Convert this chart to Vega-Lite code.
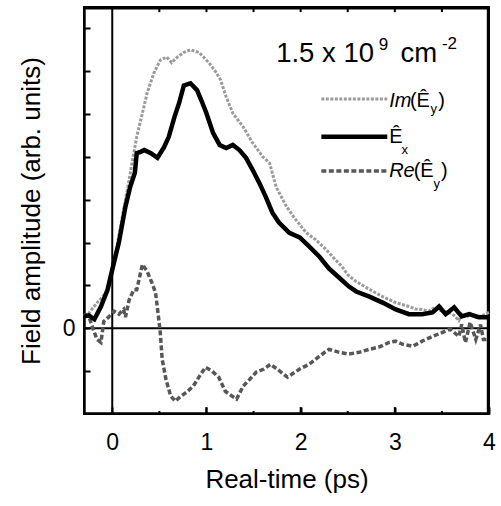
{
  "$schema": "https://vega.github.io/schema/vega-lite/v6.json",
  "width": 405,
  "height": 407,
  "autosize": {"type": "none"},
  "padding": {"left": 84, "top": 7, "right": 12, "bottom": 92},
  "background": "white",
  "resolve": {"axis": {"x": "independent", "y": "independent"}},
  "config": {
    "view": {"stroke": "black", "strokeWidth": 2},
    "font": "Liberation Sans",
    "axis": {
      "grid": false,
      "domain": false,
      "ticks": true,
      "tickColor": "black",
      "tickWidth": 2,
      "labelColor": "black",
      "labelFont": "Liberation Sans",
      "labelFontSize": 23,
      "titleFont": "Liberation Sans",
      "titleFontSize": 26,
      "titleFontWeight": "normal",
      "titleColor": "black",
      "labelOverlap": false,
      "labelFlush": false
    }
  },
  "datasets": {
    "zero": [{"z": 0}],
    "vedges": [{"z": -0.295}, {"z": 3.99}],
    "hedges": [{"z": -1.99}, {"z": 7.47}],
    "xticks": [
      {"t": 1, "lo": -1.99, "hi": -1.84},
      {"t": 2, "lo": -1.99, "hi": -1.84},
      {"t": 3, "lo": -1.99, "hi": -1.84},
      {"t": 0.5, "lo": -1.99, "hi": -1.93},
      {"t": 1.5, "lo": -1.99, "hi": -1.93},
      {"t": 2.5, "lo": -1.99, "hi": -1.93},
      {"t": 3.5, "lo": -1.99, "hi": -1.93},
      {"t": 0.5, "lo": 7.38, "hi": 7.47},
      {"t": 1, "lo": 7.38, "hi": 7.47},
      {"t": 1.5, "lo": 7.38, "hi": 7.47},
      {"t": 2, "lo": 7.38, "hi": 7.47},
      {"t": 2.5, "lo": 7.38, "hi": 7.47},
      {"t": 3, "lo": 7.38, "hi": 7.47},
      {"t": 3.5, "lo": 7.38, "hi": 7.47}
    ],
    "main": [
      {"s":"Im","t":-0.30,"v":0.30},{"s":"Im","t":-0.25,"v":0.35},{"s":"Im","t":-0.16,"v":0.60},{"s":"Im","t":-0.06,"v":0.84},{"s":"Im","t":0.00,"v":1.40},{"s":"Im","t":0.05,"v":1.90},{"s":"Im","t":0.12,"v":2.77},{"s":"Im","t":0.16,"v":3.23},{"s":"Im","t":0.21,"v":3.86},{"s":"Im","t":0.26,"v":4.47},{"s":"Im","t":0.32,"v":5.02},{"s":"Im","t":0.37,"v":5.49},{"s":"Im","t":0.44,"v":5.95},{"s":"Im","t":0.51,"v":6.26},{"s":"Im","t":0.58,"v":6.33},{"s":"Im","t":0.63,"v":6.20},{"s":"Im","t":0.69,"v":6.33},{"s":"Im","t":0.76,"v":6.44},{"s":"Im","t":0.83,"v":6.50},{"s":"Im","t":0.92,"v":6.44},{"s":"Im","t":0.97,"v":6.33},{"s":"Im","t":1.03,"v":6.19},{"s":"Im","t":1.10,"v":5.98},{"s":"Im","t":1.15,"v":5.80},{"s":"Im","t":1.21,"v":5.40},{"s":"Im","t":1.28,"v":5.02},{"s":"Im","t":1.39,"v":4.70},{"s":"Im","t":1.49,"v":4.33},{"s":"Im","t":1.60,"v":4.00},{"s":"Im","t":1.67,"v":3.86},{"s":"Im","t":1.74,"v":3.30},{"s":"Im","t":1.85,"v":2.84},{"s":"Im","t":1.95,"v":2.53},{"s":"Im","t":2.06,"v":2.23},{"s":"Im","t":2.16,"v":2.07},{"s":"Im","t":2.27,"v":1.84},{"s":"Im","t":2.37,"v":1.60},{"s":"Im","t":2.44,"v":1.44},{"s":"Im","t":2.50,"v":1.25},{"s":"Im","t":2.59,"v":1.09},{"s":"Im","t":2.73,"v":0.91},{"s":"Im","t":2.87,"v":0.74},{"s":"Im","t":3.01,"v":0.60},{"s":"Im","t":3.15,"v":0.51},{"s":"Im","t":3.22,"v":0.45},{"s":"Im","t":3.29,"v":0.44},{"s":"Im","t":3.36,"v":0.40},{"s":"Im","t":3.43,"v":0.49},{"s":"Im","t":3.50,"v":0.40},{"s":"Im","t":3.57,"v":0.37},{"s":"Im","t":3.63,"v":0.30},{"s":"Im","t":3.68,"v":0.18},{"s":"Im","t":3.71,"v":0.33},{"s":"Im","t":3.76,"v":0.25},{"s":"Im","t":3.80,"v":0.34},{"s":"Im","t":3.86,"v":0.26},{"s":"Im","t":3.93,"v":0.30},{"s":"Im","t":4.00,"v":0.37},
      {"s":"Re","t":-0.30,"v":0.33},{"s":"Re","t":-0.25,"v":0.28},{"s":"Re","t":-0.19,"v":-0.10},{"s":"Re","t":-0.16,"v":-0.26},{"s":"Re","t":-0.12,"v":-0.33},{"s":"Re","t":-0.09,"v":0.16},{"s":"Re","t":-0.04,"v":0.26},{"s":"Re","t":0.02,"v":0.40},{"s":"Re","t":0.07,"v":0.33},{"s":"Re","t":0.12,"v":0.44},{"s":"Re","t":0.14,"v":0.26},{"s":"Re","t":0.18,"v":0.67},{"s":"Re","t":0.23,"v":0.90},{"s":"Re","t":0.26,"v":0.90},{"s":"Re","t":0.32,"v":1.49},{"s":"Re","t":0.37,"v":1.33},{"s":"Re","t":0.42,"v":1.07},{"s":"Re","t":0.46,"v":0.83},{"s":"Re","t":0.49,"v":0.28},{"s":"Re","t":0.51,"v":-0.10},{"s":"Re","t":0.53,"v":-0.72},{"s":"Re","t":0.57,"v":-1.19},{"s":"Re","t":0.62,"v":-1.58},{"s":"Re","t":0.67,"v":-1.70},{"s":"Re","t":0.72,"v":-1.60},{"s":"Re","t":0.79,"v":-1.49},{"s":"Re","t":0.86,"v":-1.35},{"s":"Re","t":0.94,"v":-1.07},{"s":"Re","t":0.99,"v":-0.91},{"s":"Re","t":1.06,"v":-1.00},{"s":"Re","t":1.13,"v":-1.14},{"s":"Re","t":1.20,"v":-1.47},{"s":"Re","t":1.27,"v":-1.58},{"s":"Re","t":1.32,"v":-1.65},{"s":"Re","t":1.39,"v":-1.35},{"s":"Re","t":1.46,"v":-1.19},{"s":"Re","t":1.53,"v":-1.02},{"s":"Re","t":1.61,"v":-0.95},{"s":"Re","t":1.68,"v":-0.84},{"s":"Re","t":1.75,"v":-0.95},{"s":"Re","t":1.86,"v":-1.14},{"s":"Re","t":1.99,"v":-0.95},{"s":"Re","t":2.09,"v":-0.84},{"s":"Re","t":2.20,"v":-0.65},{"s":"Re","t":2.30,"v":-0.49},{"s":"Re","t":2.41,"v":-0.56},{"s":"Re","t":2.51,"v":-0.60},{"s":"Re","t":2.62,"v":-0.56},{"s":"Re","t":2.73,"v":-0.49},{"s":"Re","t":2.83,"v":-0.44},{"s":"Re","t":2.94,"v":-0.33},{"s":"Re","t":3.01,"v":-0.30},{"s":"Re","t":3.08,"v":-0.37},{"s":"Re","t":3.19,"v":-0.42},{"s":"Re","t":3.29,"v":-0.30},{"s":"Re","t":3.40,"v":-0.19},{"s":"Re","t":3.50,"v":-0.10},{"s":"Re","t":3.59,"v":-0.02},{"s":"Re","t":3.68,"v":-0.19},{"s":"Re","t":3.71,"v":0.09},{"s":"Re","t":3.75,"v":-0.33},{"s":"Re","t":3.80,"v":0.14},{"s":"Re","t":3.86,"v":-0.26},{"s":"Re","t":3.91,"v":0.09},{"s":"Re","t":3.94,"v":-0.26},{"s":"Re","t":4.00,"v":-0.26},
      {"s":"Ex","t":-0.30,"v":0.28},{"s":"Ex","t":-0.25,"v":0.30},{"s":"Ex","t":-0.19,"v":0.21},{"s":"Ex","t":-0.12,"v":0.51},{"s":"Ex","t":-0.05,"v":0.90},{"s":"Ex","t":0.00,"v":1.37},{"s":"Ex","t":0.07,"v":2.00},{"s":"Ex","t":0.14,"v":2.84},{"s":"Ex","t":0.19,"v":3.30},{"s":"Ex","t":0.24,"v":3.63},{"s":"Ex","t":0.26,"v":4.09},{"s":"Ex","t":0.30,"v":4.12},{"s":"Ex","t":0.34,"v":4.16},{"s":"Ex","t":0.41,"v":4.09},{"s":"Ex","t":0.48,"v":3.98},{"s":"Ex","t":0.55,"v":4.23},{"s":"Ex","t":0.60,"v":4.47},{"s":"Ex","t":0.66,"v":4.93},{"s":"Ex","t":0.71,"v":5.26},{"s":"Ex","t":0.76,"v":5.67},{"s":"Ex","t":0.83,"v":5.72},{"s":"Ex","t":0.90,"v":5.56},{"s":"Ex","t":0.95,"v":5.30},{"s":"Ex","t":1.00,"v":5.02},{"s":"Ex","t":1.07,"v":4.56},{"s":"Ex","t":1.14,"v":4.28},{"s":"Ex","t":1.21,"v":4.21},{"s":"Ex","t":1.28,"v":4.28},{"s":"Ex","t":1.35,"v":4.16},{"s":"Ex","t":1.42,"v":3.98},{"s":"Ex","t":1.49,"v":3.70},{"s":"Ex","t":1.56,"v":3.40},{"s":"Ex","t":1.63,"v":3.07},{"s":"Ex","t":1.70,"v":2.70},{"s":"Ex","t":1.77,"v":2.47},{"s":"Ex","t":1.88,"v":2.23},{"s":"Ex","t":1.99,"v":2.12},{"s":"Ex","t":2.09,"v":1.91},{"s":"Ex","t":2.20,"v":1.67},{"s":"Ex","t":2.30,"v":1.40},{"s":"Ex","t":2.41,"v":1.18},{"s":"Ex","t":2.51,"v":0.98},{"s":"Ex","t":2.59,"v":0.86},{"s":"Ex","t":2.73,"v":0.74},{"s":"Ex","t":2.87,"v":0.60},{"s":"Ex","t":3.01,"v":0.44},{"s":"Ex","t":3.15,"v":0.33},{"s":"Ex","t":3.29,"v":0.33},{"s":"Ex","t":3.40,"v":0.37},{"s":"Ex","t":3.47,"v":0.51},{"s":"Ex","t":3.54,"v":0.33},{"s":"Ex","t":3.63,"v":0.49},{"s":"Ex","t":3.71,"v":0.28},{"s":"Ex","t":3.79,"v":0.33},{"s":"Ex","t":3.89,"v":0.26},{"s":"Ex","t":4.00,"v":0.26}
    ],
    "legend": [
      {"s":"Im","a":2.22,"b":2.92,"y":5.35},
      {"s":"Ex","a":2.22,"b":2.92,"y":4.47},
      {"s":"Re","a":2.22,"b":2.92,"y":3.67}
    ],
    "italic": [
      {"x":2.94,"y":5.17,"txt":"Im"},
      {"x":2.94,"y":3.54,"txt":"Re"}
    ],
    "normal": [
      {"x":3.16,"y":5.17,"txt":"(Ê"},
      {"x":3.46,"y":5.17,"txt":")"},
      {"x":2.94,"y":4.33,"txt":"Ê"},
      {"x":3.20,"y":3.54,"txt":"(Ê"},
      {"x":3.49,"y":3.54,"txt":")"}
    ],
    "sub": [
      {"x":3.38,"y":5.02,"txt":"y"},
      {"x":3.07,"y":4.07,"txt":"x"},
      {"x":3.41,"y":3.28,"txt":"y"}
    ],
    "big": [
      {"x":1.74,"y":6.21,"txt":"1.5 x 10"},
      {"x":3.06,"y":6.21,"txt":"cm"}
    ],
    "sup": [
      {"x":2.83,"y":6.50,"txt":"9"},
      {"x":3.50,"y":6.53,"txt":"-2"}
    ]
  },
  "layer": [
    {
      "data": {"name": "zero"},
      "mark": {"type": "rule", "color": "black", "strokeWidth": 2},
      "encoding": {"x": {"field": "z", "type": "quantitative", "scale": {"domain": [-0.3, 4], "nice": false, "zero": false}, "axis": null}}
    },
    {
      "data": {"name": "zero"},
      "mark": {"type": "rule", "color": "black", "strokeWidth": 2},
      "encoding": {"y": {"field": "z", "type": "quantitative", "scale": {"domain": [-2, 7.5], "nice": false, "zero": false}, "axis": null}}
    },
    {
      "data": {"name": "vedges"},
      "mark": {"type": "rule", "color": "black", "strokeWidth": 2.5},
      "encoding": {"x": {"field": "z", "type": "quantitative", "axis": null}}
    },
    {
      "data": {"name": "hedges"},
      "mark": {"type": "rule", "color": "black", "strokeWidth": 2.5},
      "encoding": {"y": {"field": "z", "type": "quantitative", "axis": null}}
    },
    {
      "data": {"name": "xticks"},
      "mark": {"type": "rule", "color": "black", "strokeWidth": 2},
      "encoding": {
        "x": {"field": "t", "type": "quantitative", "axis": null},
        "y": {"field": "lo", "type": "quantitative", "axis": null},
        "y2": {"field": "hi"}
      }
    },
    {
      "data": {"name": "main"},
      "transform": [{"filter": "datum.s === 'Im'"}],
      "mark": {"type": "line", "color": "#9b9b9b", "strokeWidth": 3, "strokeDash": [3, 1.5]},
      "encoding": {
        "x": {"field": "t", "type": "quantitative", "axis": {
          "orient": "bottom",
          "values": [0, 1, 2, 3, 4],
          "format": "d",
          "tickSize": -7,
          "labelPadding": 24,
          "title": "Real-time (ps)",
          "titlePadding": 12
        }},
        "y": {"field": "v", "type": "quantitative", "axis": {
          "orient": "left",
          "values": [-1, 0, 1, 2, 3, 4, 5, 6, 7],
          "tickSize": -6,
          "labelExpr": "datum.value === 0 ? '0' : ''",
          "labelPadding": 15,
          "title": "Field amplitude (arb. units)",
          "titlePadding": 18
        }}
      }
    },
    {
      "data": {"name": "main"},
      "transform": [{"filter": "datum.s === 'Re'"}],
      "mark": {"type": "line", "color": "#575757", "strokeWidth": 3.5, "strokeDash": [5, 2.5]},
      "encoding": {
        "x": {"field": "t", "type": "quantitative", "axis": null},
        "y": {"field": "v", "type": "quantitative", "axis": null}
      }
    },
    {
      "data": {"name": "main"},
      "transform": [{"filter": "datum.s === 'Ex'"}],
      "mark": {"type": "line", "color": "#000000", "strokeWidth": 4.5},
      "encoding": {
        "x": {"field": "t", "type": "quantitative", "axis": null},
        "y": {"field": "v", "type": "quantitative", "axis": null}
      }
    },
    {
      "data": {"name": "legend"},
      "transform": [{"filter": "datum.s === 'Im'"}],
      "mark": {"type": "rule", "color": "#9b9b9b", "strokeWidth": 3, "strokeDash": [3, 1.5]},
      "encoding": {
        "x": {"field": "a", "type": "quantitative", "axis": null},
        "x2": {"field": "b"},
        "y": {"field": "y", "type": "quantitative", "axis": null}
      }
    },
    {
      "data": {"name": "legend"},
      "transform": [{"filter": "datum.s === 'Ex'"}],
      "mark": {"type": "rule", "color": "#000000", "strokeWidth": 4.5},
      "encoding": {
        "x": {"field": "a", "type": "quantitative", "axis": null},
        "x2": {"field": "b"},
        "y": {"field": "y", "type": "quantitative", "axis": null}
      }
    },
    {
      "data": {"name": "legend"},
      "transform": [{"filter": "datum.s === 'Re'"}],
      "mark": {"type": "rule", "color": "#575757", "strokeWidth": 3.5, "strokeDash": [5, 2.5]},
      "encoding": {
        "x": {"field": "a", "type": "quantitative", "axis": null},
        "x2": {"field": "b"},
        "y": {"field": "y", "type": "quantitative", "axis": null}
      }
    },
    {
      "data": {"name": "italic"},
      "mark": {"type": "text", "align": "left", "baseline": "alphabetic", "fontSize": 20, "fontStyle": "italic", "font": "Liberation Sans", "color": "black"},
      "encoding": {
        "x": {"field": "x", "type": "quantitative", "axis": null},
        "y": {"field": "y", "type": "quantitative", "axis": null},
        "text": {"field": "txt"}
      }
    },
    {
      "data": {"name": "normal"},
      "mark": {"type": "text", "align": "left", "baseline": "alphabetic", "fontSize": 20, "font": "Liberation Sans", "color": "black"},
      "encoding": {
        "x": {"field": "x", "type": "quantitative", "axis": null},
        "y": {"field": "y", "type": "quantitative", "axis": null},
        "text": {"field": "txt"}
      }
    },
    {
      "data": {"name": "sub"},
      "mark": {"type": "text", "align": "left", "baseline": "alphabetic", "fontSize": 13, "font": "Liberation Sans", "color": "black"},
      "encoding": {
        "x": {"field": "x", "type": "quantitative", "axis": null},
        "y": {"field": "y", "type": "quantitative", "axis": null},
        "text": {"field": "txt"}
      }
    },
    {
      "data": {"name": "big"},
      "mark": {"type": "text", "align": "left", "baseline": "alphabetic", "fontSize": 27.5, "font": "Liberation Sans", "color": "black"},
      "encoding": {
        "x": {"field": "x", "type": "quantitative", "axis": null},
        "y": {"field": "y", "type": "quantitative", "axis": null},
        "text": {"field": "txt"}
      }
    },
    {
      "data": {"name": "sup"},
      "mark": {"type": "text", "align": "left", "baseline": "alphabetic", "fontSize": 17, "font": "Liberation Sans", "color": "black"},
      "encoding": {
        "x": {"field": "x", "type": "quantitative", "axis": null},
        "y": {"field": "y", "type": "quantitative", "axis": null},
        "text": {"field": "txt"}
      }
    }
  ]
}
